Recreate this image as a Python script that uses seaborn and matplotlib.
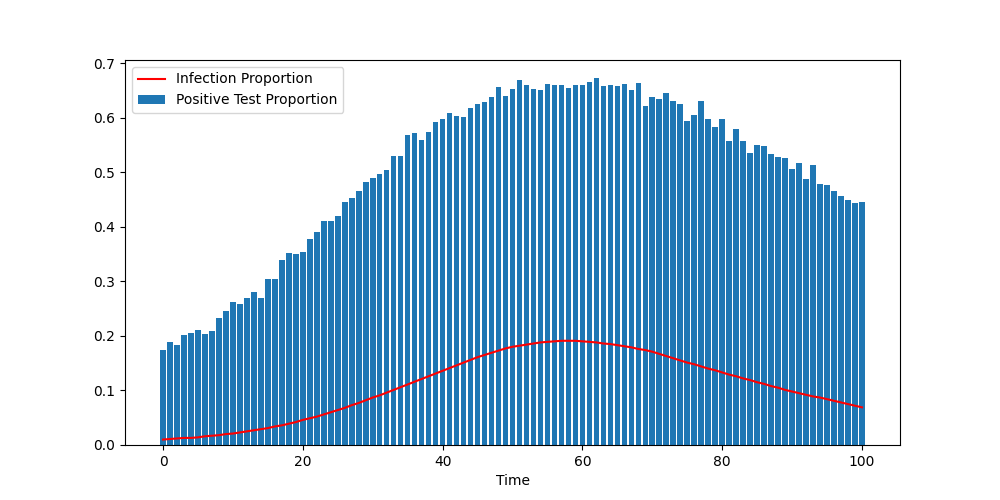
import numpy as np
import pandas as pd
import matplotlib
matplotlib.use("Agg")
import matplotlib.pyplot as plt
import seaborn as sns

time = list(range(101))

positive_test = [
    0.174, 0.189, 0.183, 0.202, 0.205, 0.211, 0.203, 0.209, 0.233, 0.246,
    0.262, 0.258, 0.269, 0.280, 0.269, 0.304, 0.304, 0.339, 0.352, 0.350,
    0.354, 0.378, 0.390, 0.410, 0.410, 0.420, 0.445, 0.453, 0.465, 0.482,
    0.489, 0.497, 0.504, 0.530, 0.530, 0.568, 0.572, 0.559, 0.574, 0.592,
    0.597, 0.608, 0.603, 0.601, 0.618, 0.625, 0.629, 0.638, 0.656, 0.640,
    0.652, 0.669, 0.660, 0.652, 0.650, 0.662, 0.660, 0.660, 0.654, 0.660,
    0.660, 0.665, 0.672, 0.658, 0.660, 0.658, 0.662, 0.650, 0.663, 0.621,
    0.638, 0.634, 0.645, 0.630, 0.625, 0.594, 0.605, 0.630, 0.597, 0.583,
    0.597, 0.557, 0.579, 0.557, 0.535, 0.550, 0.548, 0.533, 0.528, 0.526,
    0.506, 0.517, 0.487, 0.513, 0.478, 0.476, 0.465, 0.456, 0.449, 0.443,
    0.445,
]

infection = [
    0.010, 0.011, 0.012, 0.013, 0.013, 0.014, 0.016, 0.017, 0.018, 0.020,
    0.021, 0.023, 0.025, 0.027, 0.029, 0.031, 0.034, 0.036, 0.039, 0.042,
    0.046, 0.049, 0.052, 0.056, 0.060, 0.064, 0.068, 0.073, 0.077, 0.082,
    0.087, 0.091, 0.096, 0.101, 0.106, 0.111, 0.116, 0.121, 0.126, 0.131,
    0.136, 0.141, 0.146, 0.151, 0.156, 0.161, 0.165, 0.169, 0.173, 0.177,
    0.180, 0.182, 0.184, 0.186, 0.188, 0.189, 0.190, 0.191, 0.191, 0.191,
    0.190, 0.189, 0.188, 0.186, 0.185, 0.183, 0.181, 0.179, 0.176, 0.174,
    0.171, 0.167, 0.163, 0.159, 0.155, 0.151, 0.148, 0.144, 0.140, 0.137,
    0.133, 0.129, 0.126, 0.122, 0.119, 0.115, 0.112, 0.108, 0.105, 0.101,
    0.098, 0.095, 0.092, 0.089, 0.087, 0.084, 0.081, 0.078, 0.075, 0.072,
    0.069,
]

df = pd.DataFrame({"Time": time, "Positive": positive_test, "Infection": infection})

fig, ax = plt.subplots(figsize=(10, 5), dpi=100)

sns.lineplot(data=df, x="Time", y="Infection", color="red", linewidth=1.5,
             label="Infection Proportion", ax=ax)
ax.bar(df["Time"], df["Positive"], width=0.8, color="#1f77b4",
       label="Positive Test Proportion")

ax.set_xlabel("Time")
ax.set_ylabel("")
ax.legend(loc="upper left")

fig.savefig("out.png", dpi=100)
